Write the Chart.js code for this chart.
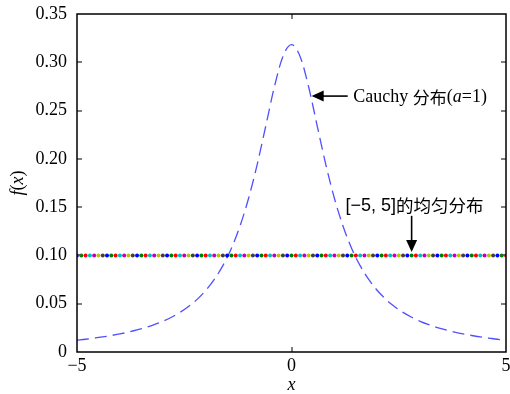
<!DOCTYPE html>
<html>
<head>
<meta charset="utf-8">
<script src="https://cdn.jsdelivr.net/npm/chart.js@4"></script>
<style>
html,body{margin:0;padding:0;background:#fff;}
#wrap{width:510px;height:394px;position:relative;}
</style>
</head>
<body>
<div id="wrap"><canvas id="c" width="510" height="394"></canvas></div>
<script>
// Cauchy density (a=1)
const cauchyX = [-5.0,-4.8,-4.6,-4.4,-4.2,-4.0,-3.8,-3.6,-3.4,-3.2,-3.0,-2.8,-2.6,-2.4,-2.2,-2.0,-1.8,-1.6,-1.4,-1.2,-1.0,-0.8,-0.6,-0.4,-0.2,0.0,0.2,0.4,0.6,0.8,1.0,1.2,1.4,1.6,1.8,2.0,2.2,2.4,2.6,2.8,3.0,3.2,3.4,3.6,3.8,4.0,4.2,4.4,4.6,4.8,5.0];
const cauchyY = [0.0122,0.0132,0.0144,0.0156,0.0171,0.0187,0.0206,0.0228,0.0253,0.0283,0.0318,0.0360,0.0410,0.0471,0.0545,0.0637,0.0751,0.0894,0.1075,0.1305,0.1592,0.1941,0.2340,0.2744,0.3061,0.3183,0.3061,0.2744,0.2340,0.1941,0.1592,0.1305,0.1075,0.0894,0.0751,0.0637,0.0545,0.0471,0.0410,0.0360,0.0318,0.0283,0.0253,0.0228,0.0206,0.0187,0.0171,0.0156,0.0144,0.0132,0.0122];
// Uniform density on [-5,5]
const uniformX = [-5.0,-4.9,-4.8,-4.7,-4.6,-4.5,-4.4,-4.3,-4.2,-4.1,-4.0,-3.9,-3.8,-3.7,-3.6,-3.5,-3.4,-3.3,-3.2,-3.1,-3.0,-2.9,-2.8,-2.7,-2.6,-2.5,-2.4,-2.3,-2.2,-2.1,-2.0,-1.9,-1.8,-1.7,-1.6,-1.5,-1.4,-1.3,-1.2,-1.1,-1.0,-0.9,-0.8,-0.7,-0.6,-0.5,-0.4,-0.3,-0.2,-0.1,0.0,0.1,0.2,0.3,0.4,0.5,0.6,0.7,0.8,0.9,1.0,1.1,1.2,1.3,1.4,1.5,1.6,1.7,1.8,1.9,2.0,2.1,2.2,2.3,2.4,2.5,2.6,2.7,2.8,2.9,3.0,3.1,3.2,3.3,3.4,3.5,3.6,3.7,3.8,3.9,4.0,4.1,4.2,4.3,4.4,4.5,4.6,4.7,4.8,4.9,5.0];
const uniformY = [0.1,0.1,0.1,0.1,0.1,0.1,0.1,0.1,0.1,0.1,0.1,0.1,0.1,0.1,0.1,0.1,0.1,0.1,0.1,0.1,0.1,0.1,0.1,0.1,0.1,0.1,0.1,0.1,0.1,0.1,0.1,0.1,0.1,0.1,0.1,0.1,0.1,0.1,0.1,0.1,0.1,0.1,0.1,0.1,0.1,0.1,0.1,0.1,0.1,0.1,0.1,0.1,0.1,0.1,0.1,0.1,0.1,0.1,0.1,0.1,0.1,0.1,0.1,0.1,0.1,0.1,0.1,0.1,0.1,0.1,0.1,0.1,0.1,0.1,0.1,0.1,0.1,0.1,0.1,0.1,0.1,0.1,0.1,0.1,0.1,0.1,0.1,0.1,0.1,0.1,0.1,0.1,0.1,0.1,0.1,0.1,0.1,0.1,0.1,0.1,0.1];
const xTicks = [-5, 0, 5];
const yTicks = [0, 0.05, 0.10, 0.15, 0.20, 0.25, 0.30, 0.35];
const xTickLabels = ['\u22125', '0', '5'];
const yTickLabels = ['0', '0.05', '0.10', '0.15', '0.20', '0.25', '0.30', '0.35'];

const dotPalette = ['rgb(0,0,255)','rgb(0,128,0)','rgb(255,0,0)','rgb(0,191,191)','rgb(191,0,191)','rgb(191,191,0)','rgb(64,64,64)'];
const dotColors = uniformX.map((_, i) => dotPalette[i % dotPalette.length]);

const SERIF = '"Liberation Serif", "Times New Roman", serif';
const CJK = '"Noto Sans CJK SC", sans-serif';
const SANS = '"Liberation Sans", Arial, sans-serif';

function drawRuns(ctx, x, y, runs) {
  let cx = x;
  for (const r of runs) {
    ctx.font = r.font;
    ctx.fillText(r.t, cx, y);
    cx += ctx.measureText(r.t).width;
  }
  return cx;
}

const decor = {
  id: 'decor',
  afterDraw(chart) {
    const ctx = chart.ctx, a = chart.chartArea;
    const xs = chart.scales.x, ys = chart.scales.y;
    ctx.save();
    // inward ticks
    ctx.strokeStyle = '#555';
    ctx.lineWidth = 1.5;
    const tl = 5;
    ctx.beginPath();
    for (const v of yTicks) {
      const py = Math.round(ys.getPixelForValue(v));
      if (py <= a.top + 1 || py >= a.bottom - 1) continue;
      ctx.moveTo(a.left, py); ctx.lineTo(a.left + tl, py);
      ctx.moveTo(a.right, py); ctx.lineTo(a.right - tl, py);
    }
    for (const v of xTicks) {
      const px = Math.round(xs.getPixelForValue(v));
      if (px <= a.left + 1 || px >= a.right - 1) continue;
      ctx.moveTo(px, a.bottom); ctx.lineTo(px, a.bottom - tl);
      ctx.moveTo(px, a.top); ctx.lineTo(px, a.top + tl);
    }
    ctx.stroke();
    // box
    ctx.strokeStyle = '#000';
    ctx.lineWidth = 1.5;
    ctx.strokeRect(a.left, a.top, a.right - a.left, a.bottom - a.top);

    ctx.fillStyle = '#000';
    ctx.textBaseline = 'middle';
    // x axis title
    ctx.font = 'italic 18px ' + SERIF;
    ctx.textAlign = 'center';
    ctx.fillText('x', (a.left + a.right) / 2, 385);
    // y axis title f(x)
    ctx.save();
    ctx.translate(18, (a.top + a.bottom) / 2);
    ctx.rotate(-Math.PI / 2);
    ctx.textAlign = 'left';
    const yRuns = [
      {t: 'f', font: 'italic 18px ' + SERIF},
      {t: '(', font: '18px ' + SERIF},
      {t: 'x', font: 'italic 18px ' + SERIF},
      {t: ')', font: '18px ' + SERIF}
    ];
    let w = 0;
    for (const r of yRuns) { ctx.font = r.font; w += ctx.measureText(r.t).width; }
    drawRuns(ctx, -w / 2, 0, yRuns);
    ctx.restore();

    // Cauchy annotation
    ctx.textAlign = 'left';
    const ay = ys.getPixelForValue(0.265);
    const tipX = xs.getPixelForValue(0.47);
    const tailX = xs.getPixelForValue(1.31);
    ctx.strokeStyle = '#000';
    ctx.lineWidth = 1.6;
    ctx.beginPath(); ctx.moveTo(tailX, ay); ctx.lineTo(tipX + 8, ay); ctx.stroke();
    ctx.beginPath(); ctx.moveTo(tipX, ay); ctx.lineTo(tipX + 12, ay - 5.5); ctx.lineTo(tipX + 12, ay + 5.5); ctx.closePath(); ctx.fill();
    drawRuns(ctx, xs.getPixelForValue(1.44), ay + 1, [
      {t: 'Cauchy ', font: '18px ' + SERIF},
      {t: '分布', font: '17px ' + CJK},
      {t: '(', font: '18px ' + SERIF},
      {t: 'a', font: 'italic 18px ' + SERIF},
      {t: '=1)', font: '18px ' + SERIF}
    ]);

    // Uniform annotation
    const ux = xs.getPixelForValue(2.80);
    const uTail = ys.getPixelForValue(0.141);
    const uTip = ys.getPixelForValue(0.1035);
    ctx.beginPath(); ctx.moveTo(ux, uTail); ctx.lineTo(ux, uTip - 8); ctx.stroke();
    ctx.beginPath(); ctx.moveTo(ux, uTip); ctx.lineTo(ux - 5.5, uTip - 12); ctx.lineTo(ux + 5.5, uTip - 12); ctx.closePath(); ctx.fill();
    drawRuns(ctx, xs.getPixelForValue(1.26), ys.getPixelForValue(0.1515), [
      {t: '[\u22125, 5]', font: '18px ' + SANS},
      {t: '的均匀分布', font: '17.5px ' + CJK}
    ]);
    ctx.restore();
  }
};

new Chart(document.getElementById('c'), {
  type: 'scatter',
  data: {
    datasets: [
      {
        label: 'uniform',
        data: uniformX.map((x, i) => ({x, y: uniformY[i]})),
        showLine: false,
        pointRadius: 2,
        pointBorderWidth: 0,
        pointBackgroundColor: dotColors,
        pointBorderColor: dotColors,
        order: 0
      },
      {
        label: 'cauchy',
        data: cauchyX.map((x, i) => ({x, y: cauchyY[i]})),
        showLine: true,
        borderColor: 'rgb(80,80,255)',
        borderWidth: 1.3,
        borderDash: [12, 6],
        pointRadius: 0,
        cubicInterpolationMode: 'monotone',
        fill: false,
        order: 1
      }
    ]
  },
  options: {
    responsive: false,
    animation: false,
    events: [],
    layout: {padding: {left: 0, right: 4, top: 14, bottom: 0}},
    plugins: {legend: {display: false}, tooltip: {enabled: false}},
    scales: {
      x: {
        type: 'linear', min: -5, max: 5,
        grid: {display: false, drawTicks: false},
        border: {display: false},
        afterBuildTicks: s => { s.ticks = xTicks.map(v => ({value: v})); },
        afterFit: s => { s.height = 42; s.paddingLeft = 0; s.paddingRight = 0; },
        ticks: {
          color: '#000', padding: 3, maxRotation: 0, autoSkip: false,
          font: {family: SERIF, size: 18},
          callback: (v) => { const i = xTicks.indexOf(v); return i >= 0 ? xTickLabels[i] : ''; }
        }
      },
      y: {
        type: 'linear', min: 0, max: 0.35,
        grid: {display: false, drawTicks: false},
        border: {display: false},
        afterBuildTicks: s => { s.ticks = yTicks.map(v => ({value: v})); },
        afterFit: s => { s.width = 77; s.paddingTop = 0; s.paddingBottom = 0; },
        ticks: {
          color: '#000', padding: 10, autoSkip: false,
          font: {family: SERIF, size: 18},
          callback: (v) => { const i = yTicks.findIndex(t => Math.abs(t - v) < 1e-9); return i >= 0 ? yTickLabels[i] : ''; }
        }
      }
    }
  },
  plugins: [decor]
});
</script>
</body>
</html>
